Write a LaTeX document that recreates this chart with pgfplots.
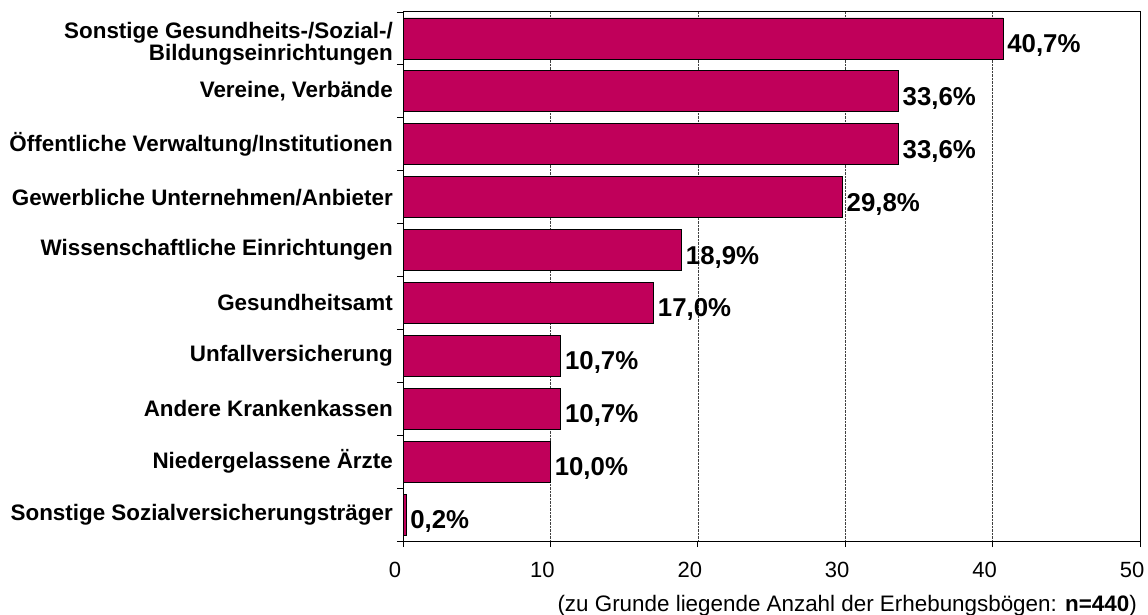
\documentclass[border=0pt]{standalone}
\usepackage{fontspec}
\setmainfont{Liberation Sans}
\usepackage{pgfplots}
\pgfplotsset{compat=1.18}
\definecolor{barc}{RGB}{192,0,90}
\begin{document}
\begin{tikzpicture}[x=1pt,y=1pt]
\path[use as bounding box] (0,0) rectangle (1148,615);
\begin{axis}[
 at={(403pt,74pt)}, anchor=south west,
 scale only axis, width=737pt, height=529pt,
 xbar, bar width=0.775, bar shift=0pt,
 xmin=0, xmax=50, ymin=-0.5, ymax=9.5, y dir=reverse,
 xtick={0,10,...,50},
 ytick={0,...,9},
 yticklabels={{\rule{0pt}{26pt}Sonstige Gesundheits-/Sozial-/\\Bildungseinrichtungen},{Vereine, Verbände},{Öffentliche Verwaltung/Institutionen},{Gewerbliche Unternehmen/Anbieter},{Wissenschaftliche Einrichtungen},{Gesundheitsamt},{Unfallversicherung},{Andere Krankenkassen},{Niedergelassene Ärzte},{Sonstige Sozialversicherungsträger}},
 minor ytick={-0.5,0.5,...,9.5},
 xtick pos=lower, ytick pos=left,
 tick align=outside,
 major tick length=6pt, minor tick length=6pt,
 major y tick style={draw=none},
 tick style={black, line width=0.8pt},
 xmajorgrids, grid style={densely dotted, black!75, line width=0.6pt},
 axis line style={line width=1pt, black},
 /pgf/number format/assume math mode=true,
 xticklabel style={font=\fontsize{22}{22}\selectfont, inner sep=0pt, anchor=north, yshift=-15pt, xshift=-8pt},
 yticklabel style={font=\bfseries\fontsize{22.4}{22}\selectfont, align=right, inner sep=0pt, xshift=-4pt},
 nodes near coords={\pgfmathprintnumber[fixed,fixed zerofill,precision=1,use comma,assume math mode=true]{\pgfplotspointmeta}\%},
 point meta=x,
 every node near coord/.append style={font=\bfseries\fontsize{25.8}{26}\selectfont, anchor=base west, inner sep=0pt, xshift=4pt, yshift=-14pt, text=black},
 clip=false,
]
\addplot[fill=barc, draw=black, line width=0.8pt] coordinates {(40.7,0) (33.6,1) (33.6,2) (29.8,3) (18.9,4) (17.0,5) (10.7,6) (10.7,7) (10.0,8) (0.2,9)};
\end{axis}
\node[anchor=base east, inner sep=0pt, font=\fontsize{22.4}{22}\selectfont] at (1137,3.5) {(zu Grunde liegende Anzahl der Erhebungsbögen: \textbf{n=440})};
\end{tikzpicture}
\end{document}
